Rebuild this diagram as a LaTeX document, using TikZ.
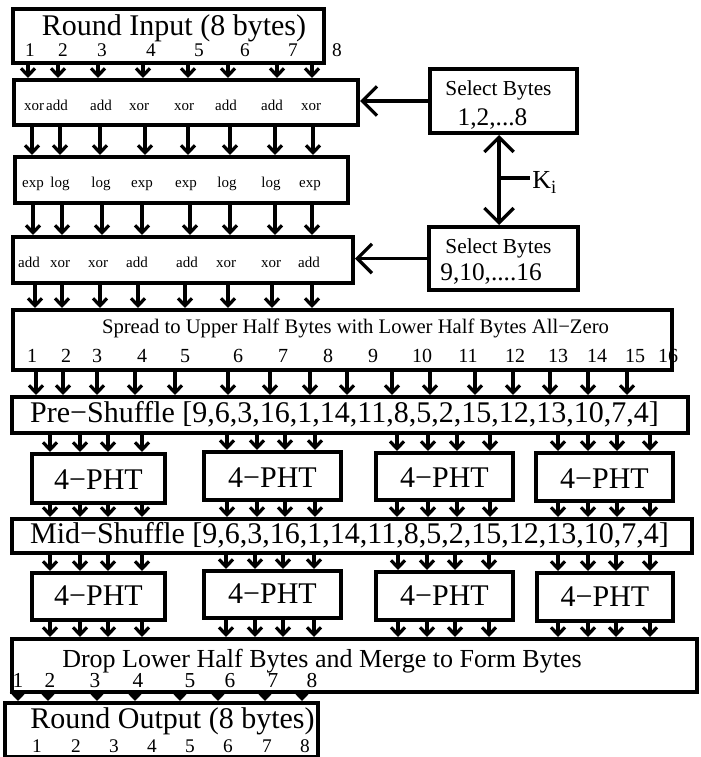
\documentclass[tikz,border=0pt]{standalone}
\usepackage{fontspec}
\setmainfont{Liberation Serif}
\usetikzlibrary{arrows.meta}
\newdimen\pxu \pxu=0.75pt
\newcommand\fsz[1]{\fontsize{#1}{#1}\selectfont}
\begin{document}
\begin{tikzpicture}[x=0.75pt,y=-0.75pt,
  box/.style={draw,line width=3pt,inner sep=0pt,fill=white},
  txt/.style={inner sep=0pt,anchor=base},
  big/.style={txt,font=\fsz{22.5}},
  num/.style={txt,font=\fsz{14.5}},
  opl/.style={txt,font=\fsz{11.25}},
  arr/.style={line width=2.4pt,-{Straight Barb[length=5.5pt,width=10.5pt]}},
  bigarr/.style={line width=2.4pt,-{Straight Barb[length=11pt,width=22pt]}},
  dblarr/.style={line width=2.4pt,{Straight Barb[length=11pt,width=22pt]}-{Straight Barb[length=11pt,width=22pt]}}]
\useasboundingbox (0,0) rectangle (700,757);
% boxes
\node[box,minimum width=311\pxu,minimum height=54\pxu] (inbox) at (168.5,36) {};
\node[box,minimum width=344\pxu,minimum height=45\pxu] (op1) at (186,102.5) {};
\node[box,minimum width=333\pxu,minimum height=46\pxu] (op2) at (181.5,180) {};
\node[box,minimum width=340\pxu,minimum height=46\pxu] (op3) at (183,260) {};
\node[box,minimum width=147\pxu,minimum height=64\pxu] (sel1) at (503.5,101) {};
\node[box,minimum width=149\pxu,minimum height=63\pxu] (sel2) at (503.5,258.5) {};
\node[box,minimum width=659\pxu,minimum height=60\pxu] (spread) at (342.5,340) {};
\node[box,minimum width=676\pxu,minimum height=36\pxu] (pre) at (350,415) {};
\node[box,minimum width=133\pxu,minimum height=49\pxu] (pa) at (98.5,478.5) {};
\node[box,minimum width=137\pxu,minimum height=48\pxu] (pb) at (272.5,476) {};
\node[box,minimum width=137\pxu,minimum height=47\pxu] (pc) at (444.5,476.5) {};
\node[box,minimum width=137\pxu,minimum height=48\pxu] (pd) at (604.5,477) {};
\node[box,minimum width=680\pxu,minimum height=34\pxu] (mid) at (352,536) {};
\node[box,minimum width=133\pxu,minimum height=47\pxu] (qa) at (98.5,596.5) {};
\node[box,minimum width=137\pxu,minimum height=47\pxu] (qb) at (272.5,594.5) {};
\node[box,minimum width=137\pxu,minimum height=48\pxu] (qc) at (444.5,596) {};
\node[box,minimum width=136\pxu,minimum height=48\pxu] (qd) at (605,597) {};
\node[box,minimum width=685\pxu,minimum height=53\pxu] (drop) at (354.5,665.5) {};
\node[box,minimum width=313\pxu,minimum height=54\pxu] (outbox) at (161.5,730) {};
% texts
\node[big] (tin) at (174,35) {Round Input (8 bytes)};
\foreach \x [count=\i] in {30,63,102,151,199,245,293,337} \node[num] (n-in-\i) at (\x,56) {\i};
\foreach \x/\t [count=\i] in {34/xor,57/add,101/add,139/xor,184/xor,226/add,272/add,311/xor} \node[opl] (o1-\i) at (\x,110) {\t};
\foreach \x/\t [count=\i] in {33/exp,60/log,101/log,142/exp,186/exp,227/log,271/log,310/exp} \node[opl] (o2-\i) at (\x,187) {\t};
\foreach \x/\t [count=\i] in {29/add,60/xor,98/xor,137/add,187/add,226/xor,271/xor,309/add} \node[opl] (o3-\i) at (\x,267) {\t};
\node[txt,font=\fsz{16}] (s1a) at (498.5,95) {Select Bytes};
\node[txt,font=\fsz{19}] (s1b) at (492.5,125) {1,2,...8};
\node[txt,font=\fsz{16}] (s2a) at (498.5,253) {Select Bytes};
\node[txt,font=\fsz{19}] (s2b) at (491,280) {9,10,....16};
\node[txt,font=\fsz{15.5}] (tspread) at (355.5,333) {Spread to Upper Half Bytes with Lower Half Bytes All−Zero};
\foreach \x [count=\i] in {32,66,97,142,185,238,283,328,373,422,468,515,558,597,635,668} \node[num,font=\fsz{15}] (n-sp-\i) at (\x,362) {\i};
\node[big] (tpre) at (344.5,422) {Pre−Shuffle [9,6,3,16,1,14,11,8,5,2,15,12,13,10,7,4]};
\node[big] (tmid) at (349.5,543) {Mid−Shuffle [9,6,3,16,1,14,11,8,5,2,15,12,13,10,7,4]};
\foreach \b in {pa,pb,pc,pd} \node[big] (t\b) at ([yshift=-11\pxu]\b.center) {4−PHT};
\foreach \b in {qa,qb,qc,qd} \node[big] (t\b) at ([yshift=-9\pxu]\b.center) {4−PHT};
\node[txt,font=\fsz{19.5}] (tdrop) at (322,667) {Drop Lower Half Bytes and Merge to Form Bytes};
\foreach \x [count=\i] in {18,50,95,138,190,230,273,312} \node[num,font=\fsz{16}] (n-dr-\i) at (\x,687) {\i};
\node[big] (tout) at (172.5,728) {Round Output (8 bytes)};
\foreach \x [count=\i] in {37,76,114,152,190,228,267,305} \node[num] (n-out-\i) at (\x,752) {\i};
% key connector
\coordinate (kj) at (499,178);
\coordinate (kend) at (530,178);
\draw[dblarr] (sel1.south -| kj) -- (sel2.north -| kj);
\draw[line width=2.4pt] (kj) -- (kend);
\node[txt,anchor=base west,font=\fsz{19.5}] (klab) at (532,188) {K{\fsz{14}\raisebox{-4pt}{i}}};
\draw[bigarr] (sel1.west) -- (sel1.west -| op1.east);
\draw[bigarr] (sel2.west) -- (sel2.west -| op3.east);
% arrows
\foreach \x in {28,58,98,143,188,228,277,312} \draw[arr] (inbox.south -| \x,0) -- (op1.north -| \x,0);
\foreach \x in {32,60,100,145,188,230,275,313} \draw[arr] (op1.south -| \x,0) -- (op2.north -| \x,0);
\foreach \x in {33,62,102,142,190,230,275,312} \draw[arr] (op2.south -| \x,0) -- (op3.north -| \x,0);
\foreach \x in {35,62,100,138,185,228,272,312} \draw[arr] (op3.south -| \x,0) -- (spread.north -| \x,0);
\foreach \x in {36,63,97,135,175,228,270,310,347,392,430,475,513,550,588,627} \draw[arr] (spread.south -| \x,0) -- (pre.north -| \x,0);
\foreach \b/\xs in {pa/{50,80,108,142},pb/{227,257,285,315},pc/{397,428,457,490},pd/{558,588,617,650}}
  \foreach \x in \xs {\draw[arr] (pre.south -| \x,0) -- (\b.north -| \x,0); \draw[arr] (\b.south -| \x,0) -- (mid.north -| \x,0);}
\foreach \b/\xs in {qa/{50,80,108,142},qb/{226,255,283,314},qc/{398,427,455,489},qd/{558,588,616,650}}
  \foreach \x in \xs {\draw[arr] (mid.south -| \x,0) -- (\b.north -| \x,0); \draw[arr] (\b.south -| \x,0) -- (drop.north -| \x,0);}
\foreach \x in {18,48,97,135,180,218,265,302} \draw[arr] (drop.south -| \x,0) -- (outbox.north -| \x,0);
\end{tikzpicture}
\end{document}
